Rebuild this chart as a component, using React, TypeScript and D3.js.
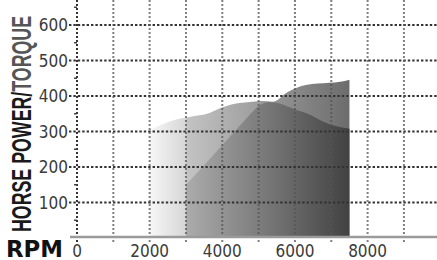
import React from 'react'
import * as d3 from 'd3'

const width = 437
const height = 260

// axis ticks
const xTickLabels = [0, 2000, 4000, 6000, 8000]
const xGridRpm = [0, 1000, 2000, 3000, 4000, 5000, 6000, 7000, 8000, 9000]
const yTickLabels = [100, 200, 300, 400, 500, 600]
const yMinorTicks = [50, 150, 250, 350, 450, 550, 650]

// horse power curve
const hpRpm = [2000, 2300, 2650, 3100, 3650, 3950, 4200, 4750, 5050, 5400, 5800, 6300, 6950, 7250, 7500]
const hpValues = [304, 318, 332, 341, 352, 366, 375, 383, 386, 384, 411, 431, 437, 440, 446]

// torque curve
const torqueRpm = [3000, 3500, 4000, 4500, 4800, 5000, 5300, 5600, 6000, 6400, 6800, 7100, 7500]
const torqueValues = [150, 205, 262, 318, 352, 372, 383, 378, 362, 348, 327, 316, 308]

export default function App() {
  const x = d3.scaleLinear().domain([0, 8000]).range([77, 367.6])
  const y = d3.scaleLinear().domain([0, 600]).range([238, 25])

  const hpData = hpRpm.map((r, i) => [r, hpValues[i]] as [number, number])
  const torqueData = torqueRpm.map((r, i) => [r, torqueValues[i]] as [number, number])

  const area = d3
    .area<[number, number]>()
    .x((d) => x(d[0]))
    .y0(y(0))
    .y1((d) => y(d[1]))
    .curve(d3.curveMonotoneX)

  const baseY = y(0) - 1
  const hpStart = x(hpRpm[0])
  const hpEnd = x(hpRpm[hpRpm.length - 1])
  const split = (x(torqueRpm[0]) - hpStart) / (hpEnd - hpStart)

  const tickFont = '"Liberation Sans Narrow", "DejaVu Sans Condensed", sans-serif'

  return (
    <svg
      width={width}
      height={height}
      style={{ position: 'fixed', left: 0, top: 0, background: '#fff' }}
    >
      <defs>
        <linearGradient id="hpFill" gradientUnits="userSpaceOnUse" x1={hpStart} x2={hpEnd} y1={0} y2={0}>
          <stop offset={0} stopColor="#f7f7f7" />
          <stop offset={split} stopColor="#d6d6d6" />
          <stop offset={split} stopColor="#c4c4c4" />
          <stop offset={1} stopColor="#6c6c6c" />
        </linearGradient>
        <linearGradient id="tqFill" gradientUnits="userSpaceOnUse" x1={x(torqueRpm[0])} x2={hpEnd} y1={0} y2={0}>
          <stop offset={0} stopColor="#acacac" />
          <stop offset={1} stopColor="#424242" />
        </linearGradient>
      </defs>

      <path d={area(hpData) || ''} fill="url(#hpFill)" />
      <path d={area(torqueData) || ''} fill="url(#tqFill)" />

      {/* horizontal grid */}
      {yTickLabels.map((v) => (
        <line
          key={'h' + v}
          x1={69}
          x2={width}
          y1={y(v)}
          y2={y(v)}
          stroke="#333"
          strokeWidth={2}
          strokeDasharray="2.4,2"
        />
      ))}

      {/* vertical grid */}
      {xGridRpm.map((r) => (
        <line
          key={'v' + r}
          x1={x(r)}
          x2={x(r)}
          y1={0}
          y2={baseY + 5}
          stroke={r === 0 ? '#333' : '#555'}
          strokeOpacity={r === 0 ? 1 : 0.75}
          strokeWidth={2}
          strokeDasharray="2,2"
        />
      ))}

      {/* minor ticks on y axis */}
      {yMinorTicks.map((v) => (
        <line key={'m' + v} x1={74} x2={77} y1={y(v)} y2={y(v)} stroke="#444" strokeWidth={1.5} />
      ))}

      {/* x axis */}
      <line x1={70} x2={width} y1={baseY} y2={baseY} stroke="#9a9a9a" strokeWidth={2.5} />

      {yTickLabels.map((v) => (
        <text
          key={'yl' + v}
          x={68}
          y={y(v)}
          dy="0.36em"
          textAnchor="end"
          fontFamily={tickFont}
          fontSize={17}
          fill="#3a3a3a"
        >
          {v}
        </text>
      ))}

      {xTickLabels.map((r) => (
        <text
          key={'xl' + r}
          x={x(r)}
          y={257}
          textAnchor="middle"
          fontFamily={tickFont}
          fontSize={17}
          fill="#3a3a3a"
        >
          {r}
        </text>
      ))}

      <text
        x={6}
        y={257}
        fontFamily='"DejaVu Sans", sans-serif'
        fontWeight="bold"
        fontSize={23}
        textLength={57}
        lengthAdjust="spacingAndGlyphs"
        fill="#111"
      >
        RPM
      </text>

      <text
        transform="translate(31,232) rotate(-90)"
        fontFamily='"Liberation Sans Narrow", sans-serif'
        fontWeight="bold"
        fontSize={27}
        textLength={216}
        lengthAdjust="spacingAndGlyphs"
        fill="#1a1a1a"
      >
        HORSE POWER/<tspan fill="#555">TORQUE</tspan>
      </text>
    </svg>
  )
}
